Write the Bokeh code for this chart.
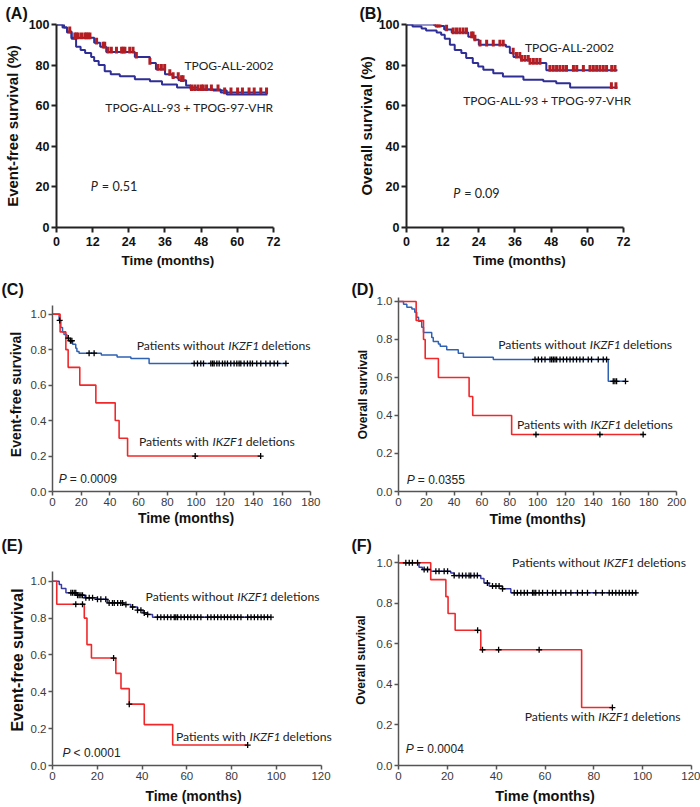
import numpy as np
from bokeh.plotting import figure
from bokeh.models import Label, Range1d, FixedTicker, NumeralTickFormatter
from bokeh.layouts import column, row
from bokeh.embed import file_html
from bokeh.resources import INLINE

# ---------------- data ----------------
# Panel A: event-free survival (%), months
A_2002_t = [0, 2.5, 3.5, 5, 12.5, 14.5, 16.5, 26, 31, 33, 36, 38.5, 40.5, 43, 44.5, 54.5, 70]
A_2002_s = [100, 98.5, 96.5, 93.5, 91, 89, 86.5, 84, 81, 78, 75.5, 74, 72.5, 70, 68, 66.5, 66.5]
A_2002_cens = [4.4, 6.1, 6.6, 7.2, 8.3, 9.4, 9.9, 10.5, 11.1, 13.3, 15.5, 16, 17.1, 18.2, 19.9, 21.6,
               22.1, 22.7, 24.3, 25.4, 26.5, 31, 33.7, 34.8, 35.9, 37.6, 38.7, 40.4, 41.5, 42,
               44.8, 45.9, 47, 48.1, 48.7, 49.8, 51.4, 53.6, 55.8, 57.9, 60.1, 61.7, 63.9, 65.6,
               67.8, 69.7]
A_93_t = [0, 2, 3.5, 5, 6.5, 8, 9.5, 11.5, 12.5, 14, 16, 18, 21, 26, 31, 35, 40, 47, 52, 56.5, 70]
A_93_s = [100, 98.5, 96, 93, 89, 87.5, 86, 84, 82, 80, 77, 75.5, 74.5, 73, 72, 70.5, 69, 68, 67.5, 65.5, 65.5]

# Panel B: overall survival (%), months
B_2002_t = [0, 9.5, 12.5, 15, 20.5, 22.5, 24, 33, 34.3, 35.5, 38, 41, 46.4, 70]
B_2002_s = [100, 99.3, 97.5, 96, 94, 92.5, 90, 89, 86, 84, 82.5, 81, 77.5, 77.5]
B_2002_cens = [9.4, 10, 10.5, 11.1, 13.3, 15.5, 16.6, 17.7, 18.8, 19.9, 21.6, 22.1, 22.7, 24.4,
               26.6, 28.8, 31, 32.1, 35.4, 36.5, 37.6, 38.2, 39.3, 40.4, 41, 42.1, 43.2, 44.3,
               47.6, 48.7, 49.8, 50.9, 52, 53.1, 55.4, 56.5, 58.7, 60.9, 62, 63.1, 64.2, 65.3,
               66.4, 68.1, 69.2]
B_93_t = [0, 2, 5, 6.5, 10, 11.5, 12.7, 14.4, 16, 18.2, 19.8, 22, 23.8, 25.5, 28.8, 32, 38.8, 45.4, 49.7, 54.3, 70]
B_93_s = [100, 99, 98, 97, 96, 95, 93, 90, 87.5, 86, 83.5, 81, 79.3, 77.7, 76, 74.4, 72.8, 72, 71, 69, 69]
B_93_cens = [68, 69.5]

# Panel C: event-free survival by IKZF1
C_wo_t = [0, 4.6, 5.8, 7, 8, 10, 11.4, 14, 16.2, 17, 18.5, 34, 45, 54.6, 67.3, 163]
C_wo_s = [1, 0.965, 0.925, 0.9, 0.885, 0.865, 0.85, 0.83, 0.808, 0.79, 0.78, 0.77, 0.758, 0.75, 0.722, 0.722]
C_wo_cens = [5, 11, 12.5, 13.5, 25.5, 29, 98.7, 101, 103.3, 105.2, 110.3, 111.5, 112.6, 114.5,
             116.1, 118.4, 120.1, 121.9, 124.2, 126.5, 128.4, 130, 131.2, 133.5, 135.8, 137.7,
             139.3, 142.3, 145.1, 148.6, 151.6, 154.4, 156.8, 162.6]
C_w_t = [0, 5.3, 9.3, 10.9, 19, 30.2, 43.7, 46.4, 52.3, 145]
C_w_s = [1, 0.9, 0.8, 0.7, 0.6, 0.5, 0.4, 0.3, 0.2, 0.2]
C_w_cens = [99.4, 145]

# Panel D: overall survival by IKZF1
D_wo_t = [0, 3.6, 6, 9.6, 11.7, 13.1, 14.4, 16.7, 18, 23.9, 25, 28.7, 30, 34.7, 43, 46.7, 68.2, 150.9, 163.3]
D_wo_s = [1, 0.985, 0.97, 0.96, 0.943, 0.917, 0.896, 0.864, 0.837, 0.81, 0.79, 0.776, 0.765,
          0.746, 0.728, 0.706, 0.695, 0.58, 0.58]
D_wo_cens = [98.2, 100.6, 103, 105.4, 109, 110.2, 111.4, 112.6, 113.8, 116.2, 118.6, 121, 123.4,
             125.7, 128.1, 130.5, 132.9, 136.5, 138.9, 143.7, 147.3, 149.7, 154.5, 155.7, 156.9, 163.3]
D_w_t = [0, 12.7, 18, 19.2, 28.7, 50.8, 53.4, 81.4, 176]
D_w_s = [1, 0.9, 0.8, 0.7, 0.6, 0.5, 0.4, 0.3, 0.3]
D_w_cens = [98.9, 144.9, 176]

# Panel E: event-free survival by IKZF1 (second cohort)
E_wo_t = [0, 3, 4, 6, 11, 14.5, 20, 24.5, 32, 35, 38, 40.5, 42.5, 44.7, 97.6]
E_wo_s = [1, 0.982, 0.96, 0.937, 0.924, 0.91, 0.902, 0.882, 0.873, 0.86, 0.843, 0.828, 0.82, 0.805, 0.805]
E_wo_cens = [8.2, 8.9, 9.7, 10.4, 11.2, 11.9, 12.7, 13.4, 14.9, 16.4, 17.9, 20.1, 21.6, 23.8, 25.3,
             26.8, 27.6, 29.1, 30.5, 31.3, 32.8, 35.8, 38, 39.5, 41, 42.5, 46.9, 48.4, 49.9, 51.4,
             52.9, 54.4, 55.1, 55.9, 57.4, 58.9, 60.4, 61.8, 63.3, 64.8, 66.3, 69.3, 70.8, 72.3,
             73.8, 75.3, 76.8, 78.2, 79.7, 81.2, 82.7, 84.2, 87.2, 88.7, 90.2, 91.7, 93.2, 94.6,
             96.1, 97.6]
E_w_t = [0, 1.9, 14.2, 15.4, 17.4, 28.3, 30.6, 34.3, 41, 53.7, 87.2]
E_w_s = [1, 0.875, 0.8, 0.656, 0.583, 0.5, 0.417, 0.333, 0.222, 0.111, 0.111]
E_w_cens = [10.4, 13.4, 27.3, 34.3, 87.2]

# Panel F: overall survival by IKZF1 (second cohort)
F_wo_t = [0, 8.4, 9.8, 13.2, 21.4, 22.8, 33.7, 35, 37.1, 42.6, 46, 97.9]
F_wo_s = [1, 0.978, 0.967, 0.958, 0.95, 0.937, 0.922, 0.9, 0.885, 0.872, 0.852, 0.852]
F_wo_cens = [3.0, 4.4, 5.7, 7.8, 10.5, 11.9, 15.3, 16.6, 18.7, 20.1, 22.8, 24.8, 26.2, 27.6, 28.9,
             29.6, 31, 32.3, 36.4, 38.5, 39.9, 41.2, 42.6, 47.4, 48.7, 50.1, 51.5, 52.8, 54.9,
             55.5, 56.2, 57.6, 59, 61, 63.1, 64.4, 66.5, 68.5, 70.6, 73.3, 75.3, 77.4, 80.8,
             83.5, 86.3, 87.6, 89, 90.4, 91.7, 93.1, 94.5, 95.8, 97.2]
F_w_t = [0, 13.2, 19.4, 20.3, 23.2, 33.7, 75, 87.6]
F_w_s = [1, 0.917, 0.833, 0.75, 0.667, 0.571, 0.286, 0.286]
F_w_cens = [32.4, 34.4, 41, 57.6, 87.6]

# axis ticks
TICKS_AB_X = [0, 12, 24, 36, 48, 60, 72]
TICKS_AB_Y = [0, 20, 40, 60, 80, 100]
TICKS_P = [0, 0.2, 0.4, 0.6, 0.8, 1.0]
TICKS_C_X = [0, 20, 40, 60, 80, 100, 120, 140, 160, 180]
TICKS_D_X = [0, 20, 40, 60, 80, 100, 120, 140, 160, 180, 200]
TICKS_EF_X = [0, 20, 40, 60, 80, 100, 120]

# ---------------- style ----------------
NAVY = "#2E2E96"
DARKRED = "#B41E23"
RED = "#F0282A"
BLUE_CD = "#3062B4"
BLUE_EF = "#3A3AA6"
ARIAL = "Liberation Sans"
CAL = "Lato"


def step_value(t_arr, s_arr, times):
    t_arr = np.asarray(t_arr, float)
    s_arr = np.asarray(s_arr, float)
    idx = np.searchsorted(t_arr, np.asarray(times, float), side="right") - 1
    return s_arr[np.clip(idx, 0, len(s_arr) - 1)]


def make_fig(cfg):
    bl, br, bt, bb = cfg["borders"]
    p = figure(frame_width=cfg["fw"], frame_height=cfg["fh"],
               min_border_left=bl, min_border_right=br, min_border_top=bt, min_border_bottom=bb,
               x_range=Range1d(*cfg["xr"]), y_range=Range1d(*cfg["yr"]),
               output_backend="svg", toolbar_location=None)
    bold = cfg["bold"]
    axis_col = "#222222" if bold else "#555555"
    p.xgrid.visible = False
    p.ygrid.visible = False
    p.outline_line_color = None
    p.xaxis.ticker = FixedTicker(ticks=cfg["xt"])
    p.yaxis.ticker = FixedTicker(ticks=cfg["yt"])
    p.xaxis.bounds = cfg["xb"]
    p.yaxis.bounds = cfg["yb"]
    for ax in (p.xaxis, p.yaxis):
        ax.axis_line_color = axis_col
        ax.axis_line_width = 2 if bold else 1.5
        ax.major_tick_line_color = axis_col
        ax.major_tick_line_width = 2 if bold else 1.5
        ax.major_tick_out = 5 if bold else 4
        ax.major_tick_in = 0
        ax.minor_tick_line_color = None
        ax.major_label_text_font = ARIAL
        ax.major_label_text_font_size = "12.5px" if bold else "11.5px"
        ax.major_label_text_font_style = "bold" if bold else "normal"
        ax.major_label_text_color = "#111111" if bold else "#3a3a3a"
        ax.axis_label_text_font = ARIAL
        ax.axis_label_text_font_style = "bold"
        ax.axis_label_text_color = "#111111"
    p.xaxis.major_label_standoff = 4 if bold else 2
    p.yaxis.major_label_standoff = 2
    p.xaxis.axis_label = "Time (months)"
    p.xaxis.axis_label_text_font_size = cfg["xls"]
    p.xaxis.axis_label_standoff = cfg["xlo"]
    p.yaxis.axis_label = cfg["ylab"]
    p.yaxis.axis_label_text_font_size = cfg["yls"]
    p.yaxis.axis_label_standoff = cfg["ylo"]
    if not bold:
        p.yaxis.formatter = NumeralTickFormatter(format="0.0")
    # panel letter as the figure title, pushed to the figure's left edge
    p.title.text = cfg["panel"]
    p.title.align = "left"
    p.title.offset = -bl + 1
    p.title.vertical_align = "bottom"
    p.title.standoff = cfg["tso"]
    p.title.text_font = ARIAL
    p.title.text_font_size = "16px"
    p.title.text_font_style = "bold"
    p.title.text_color = "#111111"
    return p


def lab(p, x, y, text, font=CAL, size="12px", align="left", style="normal", xo=0):
    p.add_layout(Label(x=x, y=y, text=text, text_font=font, text_font_size=size,
                       text_align=align, text_baseline="middle", text_font_style=style,
                       x_offset=xo, text_color="#222222"))


def pval(p, x, y, rest, font, size, gap):
    lab(p, x, y, "P", font=font, size=size, style="italic")
    lab(p, x, y, rest, font=font, size=size, xo=gap)


def ikzf(p, x, y, prefix, size="12.2px", w=30):
    lab(p, x, y, prefix, size=size, align="right", xo=-3.3)
    lab(p, x, y, "IKZF1", size=size, style="italic")
    lab(p, x, y, "deletions", size=size, xo=w + 3.3)


def km_ab(p, t1, s1, t2, s2, cens1, cens2):
    p.step(t2, s2, mode="after", line_color=NAVY, line_width=2)
    p.step(t1, s1, mode="after", line_color=NAVY, line_width=2)
    y1 = step_value(t1, s1, cens1)
    p.segment(x0=cens1, y0=y1 - 0.8, x1=cens1, y1=y1 + 2.5, line_color=DARKRED, line_width=3)
    if cens2:
        y2 = step_value(t2, s2, cens2)
        p.segment(x0=cens2, y0=y2 - 0.8, x1=cens2, y1=y2 + 2.5, line_color=DARKRED, line_width=3)


def km_ikz(p, two, swo, cwo, tw, sw, cw, blue):
    p.step(two, swo, mode="after", line_color=blue, line_width=1.5)
    p.step(tw, sw, mode="after", line_color=RED, line_width=1.6)
    p.scatter(cwo, step_value(two, swo, cwo), marker="cross", size=6, line_color="black", line_width=1.3)
    p.scatter(cw, step_value(tw, sw, cw), marker="cross", size=6, line_color="black", line_width=1.3)


# ---------------- panels ----------------
pA = make_fig(dict(borders=(52, 75, 23, 44), fw=223, fh=203, xr=(0, 74), yr=(0, 100),
                   xb=(0, 72), yb=(0, 100), xt=TICKS_AB_X, yt=TICKS_AB_Y, bold=True,
                   ylab="Event-free survival (%)", yls="15px", ylo=5, xls="13.5px", xlo=4,
                   panel="(A)", tso=5))
km_ab(pA, A_2002_t, A_2002_s, A_93_t, A_93_s, A_2002_cens, [])
lab(pA, 72, 80, "TPOG-ALL-2002", align="right")
lab(pA, 72, 59, "TPOG-ALL-93 + TPOG-97-VHR", align="right")
pval(pA, 11.4, 20, "= 0.51", CAL, "12.6px", 11)

pB = make_fig(dict(borders=(48, 76, 23, 44), fw=226, fh=203, xr=(0, 75), yr=(0, 100),
                   xb=(0, 72), yb=(0, 100), xt=TICKS_AB_X, yt=TICKS_AB_Y, bold=True,
                   ylab="Overall survival (%)", yls="15px", ylo=1, xls="13.5px", xlo=4,
                   panel="(B)", tso=5))
km_ab(pB, B_2002_t, B_2002_s, B_93_t, B_93_s, B_2002_cens, B_93_cens)
lab(pB, 39.3, 88.7, "TPOG-ALL-2002")
lab(pB, 18.8, 62.8, "TPOG-ALL-93 + TPOG-97-VHR")
pval(pB, 15.5, 16.6, "= 0.09", CAL, "12.6px", 11)

pC = make_fig(dict(borders=(52, 31, 26, 40), fw=267, fh=194, xr=(0, 186), yr=(0, 1.094),
                   xb=(0, 180), yb=(0, 1.05), xt=TICKS_C_X, yt=TICKS_P, bold=False,
                   ylab="Event-free survival", yls="14px", ylo=4, xls="14px", xlo=1,
                   panel="(C)", tso=0))
km_ikz(pC, C_wo_t, C_wo_s, C_wo_cens, C_w_t, C_w_s, C_w_cens, BLUE_CD)
ikzf(pC, 122.4, 0.823, "Patients without")
ikzf(pC, 111.4, 0.283, "Patients with")
pval(pC, 4.4, 0.07, "= 0.0009", ARIAL, "12px", 11)

pD = make_fig(dict(borders=(48, 24, 26, 40), fw=278, fh=194, xr=(0, 200), yr=(0, 1.021),
                   xb=(0, 200), yb=(0, 1.021), xt=TICKS_D_X, yt=TICKS_P, bold=False,
                   ylab="Overall survival", yls="12px", ylo=4, xls="14px", xlo=2,
                   panel="(D)", tso=0))
km_ikz(pD, D_wo_t, D_wo_s, D_wo_cens, D_w_t, D_w_s, D_w_cens, BLUE_CD)
ikzf(pD, 137.6, 0.776, "Patients without")
ikzf(pD, 138.1, 0.355, "Patients with")
pval(pD, 6, 0.062, "= 0.0355", ARIAL, "12px", 11)

pE = make_fig(dict(borders=(52, 16, 23, 41), fw=282, fh=211, xr=(0, 126), yr=(0, 1.145),
                   xb=(0, 120), yb=(0, 1.054), xt=TICKS_EF_X, yt=TICKS_P, bold=False,
                   ylab="Event-free survival", yls="16px", ylo=2, xls="14px", xlo=5,
                   panel="(E)", tso=1))
km_ikz(pE, E_wo_t, E_wo_s, E_wo_cens, E_w_t, E_w_s, E_w_cens, BLUE_EF)
ikzf(pE, 82.5, 0.919, "Patients without")
ikzf(pE, 88, 0.159, "Patients with")
pval(pE, 4.5, 0.068, "< 0.0001", ARIAL, "12px", 11)

pF = make_fig(dict(borders=(48, 9, 23, 41), fw=293, fh=211, xr=(0, 120), yr=(0, 1.041),
                   xb=(0, 120), yb=(0, 1.041), xt=TICKS_EF_X, yt=TICKS_P, bold=False,
                   ylab="Overall survival", yls="12px", ylo=6, xls="14.5px", xlo=5,
                   panel="(F)", tso=1))
km_ikz(pF, F_wo_t, F_wo_s, F_wo_cens, F_w_t, F_w_s, F_w_cens, BLUE_EF)
ikzf(pF, 84, 1.003, "Patients without")
ikzf(pF, 81.8, 0.242, "Patients with")
pval(pF, 3, 0.079, "= 0.0004", ARIAL, "12px", 11)

layout = column(row(pA, pB), row(pC, pD), row(pE, pF))

open("out.html", "w").write(file_html(layout, INLINE))
